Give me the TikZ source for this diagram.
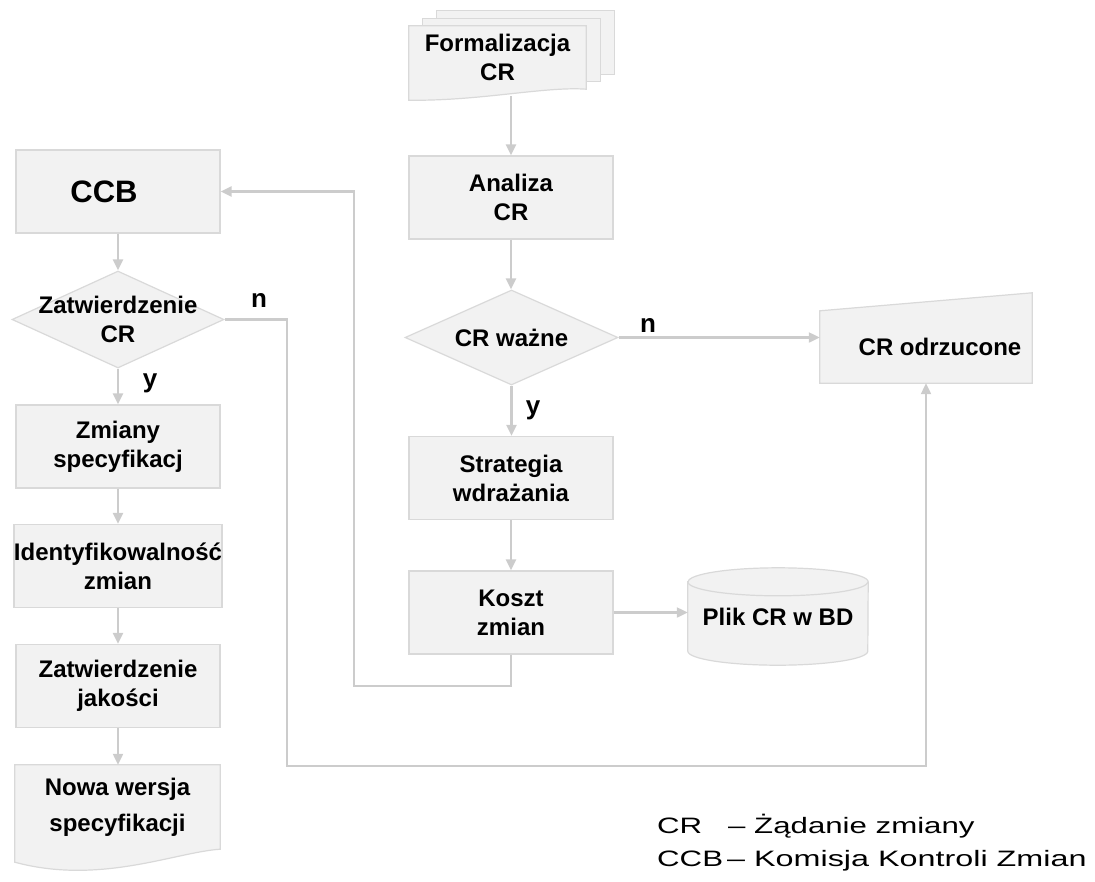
\documentclass[tikz,border=0pt]{standalone}
\usepackage{fontspec}
\usepackage{graphicx}
\setmainfont{Liberation Sans}
\usetikzlibrary{arrows.meta,shapes.geometric,backgrounds}
\definecolor{kastengrau}{HTML}{F2F2F2}
\definecolor{randgrau}{HTML}{D9D9D9}
\definecolor{liniengrau}{HTML}{CCCCCC}
\newcommand{\schrift}{\fontsize{24}{29}\selectfont\bfseries}
\begin{document}
\begin{tikzpicture}[x=1pt,y=-1pt,
		blatt/.style={fill=kastengrau,draw=randgrau,line width=1.2pt},
		kasten/.style={blatt,minimum width=204pt,minimum height=83pt,inner sep=0pt,align=center,font=\schrift},
		leer/.style={inner sep=0pt,align=center,font=\schrift},
		raute/.style={blatt,diamond,inner sep=0pt},
		pfeil/.style={draw=liniengrau,line width=2.2pt,-{Triangle[length=11pt,width=10pt]}},
		marke/.style={font=\fontsize{26}{30}\selectfont\bfseries},
		legende/.style={inner sep=0pt,anchor=base west,font=\fontsize{22.3}{27}\selectfont}]
	\useasboundingbox (0,0) rectangle (1095,881);
	% rechte Spalte
	\node[leer,minimum width=177pt,minimum height=63pt] (form) at (497.5,57.5) {Formalizacja\\CR};
	\node[kasten] (ana) at (511,197.5) {Analiza\\CR};
	\node[raute,minimum width=213pt,minimum height=95pt,label={[leer]center:CR ważne}] (wazne) at (511.5,337.5) {};
	\node[kasten] (strat) at (511,478) {Strategia\\wdrażania};
	\node[kasten] (koszt) at (511,612.5) {Koszt\\zmian};
	\node[leer,minimum width=180pt,minimum height=97pt] (baza) at (778,616.5) {Plik CR w BD};
	\node[leer,minimum width=212pt,minimum height=90pt,label={[leer,xshift=14pt,yshift=-9pt]center:CR odrzucone}] (odrz) at (926,338) {};
	% linke Spalte
	\node[kasten,font=\fontsize{31}{36}\selectfont\bfseries] (ccb) at (118,191.5) {CCB\hspace*{28pt}};
	\node[raute,minimum width=212pt,minimum height=97pt,label={[leer]center:Zatwierdzenie\\CR}] (zatw) at (118,319.5) {};
	\node[kasten] (zmiany) at (118,446.5) {Zmiany\\specyfikacj};
	\node[kasten] (ident) at (118,566) {Identyfikowalność\\zmian};
	\node[kasten] (jakosc) at (118,686) {Zatwierdzenie\\jakości};
	\node[leer,minimum width=205pt,minimum height=84pt] (nowa) at (117.5,807) {Nowa wersja\\[7pt]specyfikacji};
	% n und y
	\node[marke] (n1) at (259,300) {n};
	\node[marke] (n2) at (648,325) {n};
	\node[marke] (y1) at (150,383) {y};
	\node[marke] (y2) at (533,410) {y};
	% Formen hinter den Knoten
	\begin{scope}[on background layer]
		\foreach \s in {2,1}
			\path[blatt] ([shift={(\s*14,-\s*7.5)}]form.south west) rectangle ([shift={(\s*14,-\s*7.5)}]form.north east);
		\path[blatt] (form.north west) -- (form.north east) -- (form.south east) .. controls ([shift={(-41,-3)}]form.south east) and ([shift={(71,12)}]form.south west) .. ([shift={(0,11)}]form.south west) -- cycle;
		\path[blatt] (nowa.north west) -- (nowa.north east) -- (nowa.south east) .. controls ([shift={(-45,3)}]nowa.south east) and ([shift={(85,36)}]nowa.south west) .. ([shift={(0,13)}]nowa.south west) -- cycle;
		\path[blatt] (odrz.south west) -- ([shift={(0,18)}]odrz.north west) -- (odrz.north east) -- (odrz.south east) -- cycle;
		% Zylinder
		\path[blatt] ([shift={(0,14)}]baza.north west) -- ([shift={(0,-14)}]baza.south west) arc[start angle=180,end angle=360,x radius=90pt,y radius=14pt] -- ([shift={(0,14)}]baza.north east) arc[start angle=0,end angle=180,x radius=90pt,y radius=14pt] -- cycle;
		\draw[draw=randgrau,line width=1.2pt] ([shift={(0,14)}]baza.north west) arc[start angle=180,end angle=360,x radius=90pt,y radius=14pt];
	\end{scope}
	% Pfeile nach unten
	\foreach \a/\b in {ccb/zatw,zatw/zmiany,zmiany/ident,ident/jakosc,jakosc/nowa,ana/wazne,wazne/strat,strat/koszt}
		\draw[pfeil] (\a.south) -- (\a.south |- \b.north);
	\draw[pfeil] (form.south -| ana.north) ++(0,7) -- (ana.north);
	% Pfeile zur Seite
	\draw[pfeil] (koszt.east) -- (koszt.east -| baza.west);
	\draw[pfeil] (wazne.east) -- (wazne.east -| odrz.west);
	\coordinate (schleife) at (354,686);
	\draw[pfeil] (koszt.south) |- (schleife) |- (ccb.east);
	\coordinate (unten) at (287,766);
	\draw[pfeil] (zatw.east) -| (unten) -| (odrz.south);
	% Legende
	\node[legende] (lcr) at (657,833) {\scalebox{1.4}[1]{CR}};
	\node[legende] (lcrtext) at (728,833) {\scalebox{1.4}[1]{– Żądanie zmiany}};
	\node[legende] (lccb) at (657,866) {\scalebox{1.4}[1]{CCB}};
	\node[legende] (lccbtext) at (727,866) {\scalebox{1.45}[1]{– Komisja Kontroli Zmian}};
\end{tikzpicture}
\end{document}
